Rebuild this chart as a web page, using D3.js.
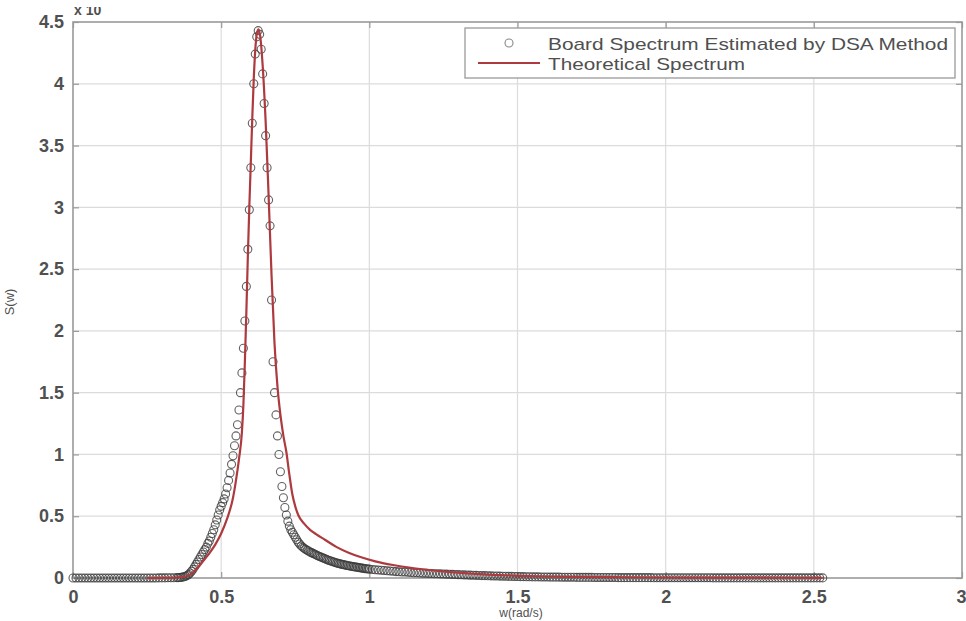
<!DOCTYPE html>
<html>
<head>
<meta charset="utf-8">
<script src="https://cdn.jsdelivr.net/npm/d3@7/dist/d3.min.js"></script>
<style>
  html, body { margin: 0; padding: 0; background: #fff; }
  svg { display: block; }
  text { font-family: "Liberation Sans", Arial, sans-serif; }
</style>
</head>
<body>
<svg id="chart" width="966" height="621"></svg>
<script>
// Axis ticks
const xTicks = [0, 0.5, 1, 1.5, 2, 2.5, 3];
const yTicks = [0, 0.5, 1, 1.5, 2, 2.5, 3, 3.5, 4, 4.5];

// DSA estimate, sampled on three uniform omega grids (units of 1e4)
const dsaLowStart = 0, dsaLowStep = 0.01;
const dsaLowS = [
  0,0,0,0,0,0,0,0,0,0,
  0,0,0,0,0,0,0,0,0,0,
  0,0,0,0,0,0,0,0,0,0.001,
  0.001,0.001,0.002,0.002,0.002,0.003
];
const dsaPeakStart = 0.355, dsaPeakStep = 0.005;
const dsaPeakS = [
  0.003,0.004,0.005,0.007,0.010,0.014,0.020,0.028,0.040,
  0.055,0.070,0.090,0.110,0.130,0.150,0.170,0.190,0.210,0.230,
  0.250,0.280,0.300,0.330,0.360,0.390,0.430,0.470,0.510,0.550,
  0.580,0.610,0.640,0.680,0.730,0.790,0.850,0.920,0.990,1.070,
  1.150,1.240,1.360,1.500,1.660,1.860,2.080,2.360,2.660,2.980,
  3.320,3.680,4.000,4.240,4.380,4.430,4.400,4.280,4.080,3.840,
  3.580,3.320,3.060,2.850,2.250,1.750,1.500,1.320,1.150,1.000,
  0.860,0.740,0.650,0.570,0.510,0.460,0.420,0.390,0.370,0.350,
  0.330,0.310,0.290,0.275,0.260,0.250,0.240,0.232,0.225,0.218,
  0.211,0.205,0.199,0.193,0.187,0.181,0.176,0.171,0.166,0.161,
  0.156,0.151,0.146,0.142,0.137,0.133,0.129,0.125,0.122,0.118,
  0.115,0.112,0.109,0.106,0.104,0.101,0.099,0.096,0.094,0.092,
  0.090,0.088,0.086,0.084,0.082,0.080,0.078,0.076,0.075,0.073,
  0.072
];
const dsaTailStart = 1.01, dsaTailStep = 0.01;
const dsaTailS = [
  0.069,0.067,0.065,0.063,0.061,0.059,0.057,0.055,0.052,0.051,
  0.049,0.048,0.046,0.045,0.043,0.042,0.041,0.039,0.038,0.037,
  0.036,0.035,0.034,0.033,0.032,0.031,0.030,0.029,0.028,0.027,
  0.026,0.025,0.024,0.023,0.022,0.021,0.020,0.019,0.019,0.018,
  0.017,0.016,0.016,0.015,0.014,0.014,0.013,0.013,0.012,0.012,
  0.011,0.011,0.010,0.010,0.009,0.009,0.009,0.008,0.008,0.008,
  0.007,0.007,0.007,0.007,0.006,0.006,0.006,0.006,0.006,0.005,
  0.005,0.005,0.005,0.005,0.005,0.004,0.004,0.004,0.004,0.004,
  0.004,0.004,0.004,0.003,0.003,0.003,0.003,0.003,0.003,0.003,
  0.003,0.003,0.003,0.003,0.003,0.002,0.002,0.002,0.002,0.002,
  0.002,0.002,0.002,0.002,0.002,0.002,0.002,0.002,0.002,0.002,
  0.002,0.002,0.002,0.002,0.002,0.001,0.001,0.001,0.001,0.001,
  0.001,0.001,0.001,0.001,0.001,0.001,0.001,0.001,0.001,0.001,
  0.001,0.001,0.001,0.001,0.001,0.001,0.001,0.001,0.001,0.001,
  0.001,0.001,0.001,0.001,0.001,0.001,0.001,0.001,0.001,0.001,
  0.001,0.001,0.001
];

// Theoretical spectrum (units of 1e4)
const theoOmega = [
  0.25,0.30,0.35,0.38,0.40,0.42,0.44,0.46,0.48,0.50,
  0.52,0.54,0.55,0.56,0.57,0.575,0.58,0.585,0.59,0.595,
  0.60,0.605,0.61,0.615,0.62,0.626,0.632,0.64,0.65,0.66,
  0.67,0.68,0.69,0.70,0.71,0.72,0.73,0.74,0.75,0.76,
  0.78,0.80,0.82,0.85,0.89,0.93,0.97,1.02,1.08,1.14,
  1.20,1.30,1.40,1.50,1.60,1.70,1.85,2.00,2.20,2.40,
  2.53
];
const theoS = [
  0.000,0.001,0.004,0.012,0.035,0.080,0.140,0.200,0.270,0.360,
  0.480,0.650,0.790,0.960,1.180,1.400,1.750,2.150,2.600,3.000,
  3.360,3.720,4.040,4.270,4.400,4.440,4.380,4.150,3.700,3.100,
  2.450,1.900,1.550,1.320,1.150,1.020,0.840,0.680,0.580,0.510,
  0.440,0.390,0.355,0.310,0.250,0.205,0.170,0.135,0.105,0.082,
  0.065,0.043,0.028,0.018,0.012,0.009,0.006,0.004,0.003,0.002,
  0.001
];

const legendLabels = ["Board Spectrum Estimated by DSA Method", "Theoretical Spectrum"];

// ---- build point sets ----
function gridPoints(start, step, vals) {
  return vals.map((v, i) => ({ w: +(start + i * step).toFixed(4), s: v }));
}
const dsaPoints = [
  ...gridPoints(dsaLowStart, dsaLowStep, dsaLowS),
  ...gridPoints(dsaPeakStart, dsaPeakStep, dsaPeakS),
  ...gridPoints(dsaTailStart, dsaTailStep, dsaTailS)
];
const theoPoints = theoOmega.map((w, i) => ({ w, s: theoS[i] }));

// ---- layout ----
const svg = d3.select("#chart");
const plotL = 73, plotR = 962, plotT = 22, plotB = 578;
const x = d3.scaleLinear().domain([0, 3]).range([plotL, plotR]);
const y = d3.scaleLinear().domain([0, 4.5]).range([plotB, plotT]);

const gridColor = "#dcdcdc";
const axisColor = "#9a9a9a";
const textColor = "#505050";
const curveColor = "#ad3a3e";

// grid
const grid = svg.append("g");
grid.selectAll(".gx").data(xTicks.slice(1, -1)).join("line")
  .attr("x1", d => x(d)).attr("x2", d => x(d))
  .attr("y1", plotT).attr("y2", plotB)
  .attr("stroke", gridColor).attr("stroke-width", 1.2);
grid.selectAll(".gy").data(yTicks.slice(1, -1)).join("line")
  .attr("x1", plotL).attr("x2", plotR)
  .attr("y1", d => y(d)).attr("y2", d => y(d))
  .attr("stroke", gridColor).attr("stroke-width", 1.2);

// axes with inward ticks on all four sides
const tickLen = 6;
const axB = d3.axisBottom(x).tickValues(xTicks).tickSize(-tickLen).tickPadding(12).tickFormat(d3.format("~g"));
const axT = d3.axisTop(x).tickValues(xTicks).tickSize(-tickLen).tickFormat("");
const axL = d3.axisLeft(y).tickValues(yTicks).tickSize(-tickLen).tickPadding(9).tickFormat(d3.format("~g"));
const axR = d3.axisRight(y).tickValues(yTicks).tickSize(-tickLen).tickFormat("");

function styleAxis(g) {
  g.select(".domain").remove();
  g.selectAll(".tick line").attr("stroke", axisColor).attr("stroke-width", 1.2);
  g.selectAll(".tick text")
    .attr("fill", textColor)
    .style("font-size", "18px")
    .style("font-weight", "bold");
}
const gB = svg.append("g").attr("transform", `translate(0,${plotB})`).call(axB).call(styleAxis);
// last x label sits against the right edge of the canvas
gB.selectAll(".tick text").filter(d => d === xTicks[xTicks.length - 1])
  .attr("text-anchor", "end").attr("dx", "4px");
svg.append("g").attr("transform", `translate(0,${plotT})`).call(axT).call(styleAxis);
svg.append("g").attr("transform", `translate(${plotL},0)`).call(axL).call(styleAxis);
svg.append("g").attr("transform", `translate(${plotR},0)`).call(axR).call(styleAxis);

// frame
svg.append("rect")
  .attr("x", plotL).attr("y", plotT)
  .attr("width", plotR - plotL).attr("height", plotB - plotT)
  .attr("fill", "none").attr("stroke", axisColor).attr("stroke-width", 1.6);

// DSA estimate as open circles
svg.append("g").selectAll("circle").data(dsaPoints).join("circle")
  .attr("cx", d => x(d.w)).attr("cy", d => y(d.s))
  .attr("r", 4)
  .attr("fill", "none")
  .attr("stroke", "#3a3a3a")
  .attr("stroke-opacity", 0.8)
  .attr("stroke-width", 1.1);

// theoretical curve
const line = d3.line().x(d => x(d.w)).y(d => y(d.s)).curve(d3.curveMonotoneX);
svg.append("path").datum(theoPoints)
  .attr("d", line)
  .attr("fill", "none")
  .attr("stroke", curveColor)
  .attr("stroke-width", 2.2)
  .attr("stroke-linejoin", "round");

// exponent label above the y axis
svg.append("defs").append("clipPath").attr("id", "expClip")
  .append("rect").attr("x", 0).attr("y", 7).attr("width", 200).attr("height", 20);
svg.append("text")
  .attr("clip-path", "url(#expClip)")
  .attr("x", 74).attr("y", 15)
  .attr("fill", textColor)
  .style("font-size", "14px").style("font-weight", "bold")
  .text("x 10");

// axis titles
svg.append("text")
  .attr("transform", `translate(14,${(plotT + plotB) / 2 + 2}) rotate(-90)`)
  .attr("text-anchor", "middle")
  .attr("fill", textColor)
  .style("font-size", "13px")
  .text("S(w)");
svg.append("text")
  .attr("x", 521).attr("y", 617)
  .attr("text-anchor", "middle")
  .attr("fill", textColor)
  .style("font-size", "12px")
  .text("w(rad/s)");

// legend
const lg = svg.append("g");
lg.append("rect")
  .attr("x", 465).attr("y", 28).attr("width", 490).attr("height", 50)
  .attr("fill", "#fff").attr("stroke", axisColor).attr("stroke-width", 1.3);
lg.append("circle")
  .attr("cx", 509).attr("cy", 43).attr("r", 4)
  .attr("fill", "none").attr("stroke", "#888").attr("stroke-width", 1.1);
lg.append("line")
  .attr("x1", 478).attr("x2", 540).attr("y1", 63).attr("y2", 63)
  .attr("stroke", curveColor).attr("stroke-width", 2.2);
const legendWidths = [400, 197];
lg.selectAll("text.lab").data(legendLabels).join("text")
  .attr("x", 548).attr("y", (d, i) => 50 + i * 20)
  .attr("fill", textColor)
  .attr("textLength", (d, i) => legendWidths[i])
  .attr("lengthAdjust", "spacingAndGlyphs")
  .style("font-size", "17px")
  .text(d => d);
</script>
</body>
</html>
